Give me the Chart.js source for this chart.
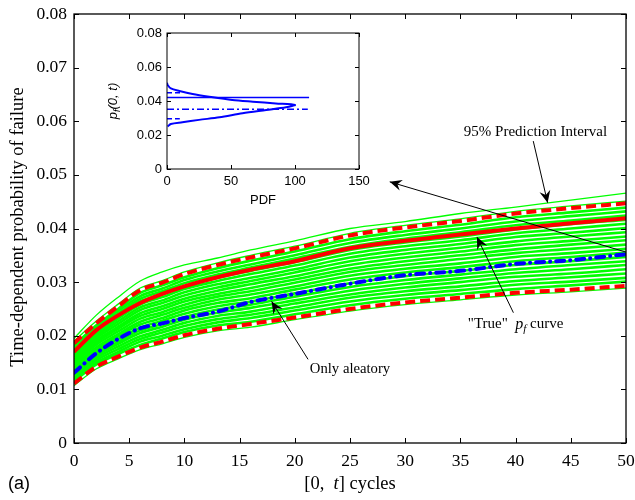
<!DOCTYPE html>
<html>
<head>
<meta charset="utf-8">
<script src="https://cdn.jsdelivr.net/npm/chart.js@4.4.1/dist/chart.umd.min.js"></script>
<style>
  html, body { margin: 0; padding: 0; background: #fff; }
  #wrap { position: relative; width: 635px; height: 500px; }
  #mainChart { position: absolute; left: 0; top: 0; width: 635px; height: 500px; }
  #insetChart { position: absolute; left: 100px; top: 20px; width: 280px; height: 200px; }
</style>
</head>
<body>
<div id="wrap">
  <canvas id="mainChart" width="635" height="500"></canvas>
  <canvas id="insetChart" width="280" height="200"></canvas>
</div>
<script>
// time axis (cycles)
const cycles = [0, 2, 4, 6, 8, 10, 13, 16, 20, 25, 30, 35, 40, 45, 50];

// "True" pf curve, 95% bounds and the aleatory-only curve
const truePf     = [0.0170, 0.0210, 0.0238, 0.0261, 0.0278, 0.0292, 0.0309, 0.0323, 0.0339, 0.0363, 0.0377, 0.0389, 0.0400, 0.0410, 0.0419];
const upperPI    = [0.0186, 0.0223, 0.0255, 0.0285, 0.0299, 0.0315, 0.0332, 0.0346, 0.0363, 0.0387, 0.0402, 0.0414, 0.0428, 0.0438, 0.0447];
const lowerPI    = [0.0111, 0.0142, 0.0161, 0.0178, 0.0189, 0.0201, 0.0213, 0.0222, 0.0234, 0.0250, 0.0262, 0.0271, 0.0280, 0.0286, 0.0293];
const aleatoryPf = [0.0131, 0.0167, 0.0194, 0.0214, 0.0223, 0.0233, 0.0245, 0.0263, 0.0278, 0.0297, 0.0313, 0.0321, 0.0334, 0.0341, 0.0352];

// sampled pf curves (green)
const mcRuns = [
  [0.0107, 0.0138, 0.0157, 0.0174, 0.0185, 0.0197, 0.0209, 0.0216, 0.0230, 0.0246, 0.0258, 0.0267, 0.0276, 0.0282, 0.0289],
  [0.0115, 0.0146, 0.0166, 0.0183, 0.0195, 0.0207, 0.0219, 0.0226, 0.0240, 0.0257, 0.0269, 0.0278, 0.0287, 0.0294, 0.0301],
  [0.0119, 0.0150, 0.0170, 0.0189, 0.0200, 0.0212, 0.0225, 0.0233, 0.0247, 0.0264, 0.0276, 0.0285, 0.0295, 0.0301, 0.0308],
  [0.0122, 0.0154, 0.0175, 0.0194, 0.0206, 0.0218, 0.0231, 0.0239, 0.0253, 0.0271, 0.0283, 0.0292, 0.0302, 0.0309, 0.0316],
  [0.0126, 0.0158, 0.0180, 0.0199, 0.0211, 0.0224, 0.0237, 0.0245, 0.0260, 0.0277, 0.0290, 0.0300, 0.0310, 0.0316, 0.0324],
  [0.0130, 0.0162, 0.0185, 0.0205, 0.0217, 0.0230, 0.0243, 0.0252, 0.0266, 0.0284, 0.0297, 0.0307, 0.0317, 0.0324, 0.0332],
  [0.0134, 0.0166, 0.0189, 0.0210, 0.0222, 0.0235, 0.0249, 0.0258, 0.0273, 0.0291, 0.0304, 0.0314, 0.0324, 0.0332, 0.0339],
  [0.0137, 0.0170, 0.0194, 0.0215, 0.0228, 0.0241, 0.0255, 0.0264, 0.0279, 0.0298, 0.0311, 0.0321, 0.0332, 0.0339, 0.0347],
  [0.0141, 0.0174, 0.0199, 0.0221, 0.0233, 0.0247, 0.0261, 0.0270, 0.0286, 0.0305, 0.0318, 0.0328, 0.0339, 0.0347, 0.0355],
  [0.0145, 0.0178, 0.0203, 0.0226, 0.0239, 0.0252, 0.0267, 0.0277, 0.0292, 0.0312, 0.0325, 0.0335, 0.0347, 0.0354, 0.0362],
  [0.0149, 0.0183, 0.0208, 0.0232, 0.0244, 0.0258, 0.0273, 0.0283, 0.0299, 0.0319, 0.0332, 0.0343, 0.0354, 0.0362, 0.0370],
  [0.0152, 0.0187, 0.0213, 0.0237, 0.0250, 0.0264, 0.0278, 0.0289, 0.0305, 0.0325, 0.0339, 0.0350, 0.0361, 0.0370, 0.0378],
  [0.0156, 0.0191, 0.0217, 0.0242, 0.0255, 0.0269, 0.0284, 0.0296, 0.0311, 0.0332, 0.0346, 0.0357, 0.0369, 0.0377, 0.0385],
  [0.0160, 0.0195, 0.0222, 0.0248, 0.0261, 0.0275, 0.0290, 0.0302, 0.0318, 0.0339, 0.0353, 0.0364, 0.0376, 0.0385, 0.0393],
  [0.0164, 0.0199, 0.0227, 0.0253, 0.0266, 0.0281, 0.0296, 0.0308, 0.0324, 0.0346, 0.0360, 0.0371, 0.0384, 0.0392, 0.0401],
  [0.0167, 0.0203, 0.0232, 0.0258, 0.0272, 0.0287, 0.0302, 0.0315, 0.0331, 0.0353, 0.0367, 0.0378, 0.0391, 0.0400, 0.0409],
  [0.0171, 0.0207, 0.0236, 0.0264, 0.0277, 0.0292, 0.0308, 0.0321, 0.0337, 0.0360, 0.0374, 0.0385, 0.0398, 0.0408, 0.0416],
  [0.0175, 0.0211, 0.0241, 0.0269, 0.0283, 0.0298, 0.0314, 0.0327, 0.0344, 0.0366, 0.0381, 0.0393, 0.0406, 0.0415, 0.0424],
  [0.0179, 0.0215, 0.0246, 0.0274, 0.0288, 0.0304, 0.0320, 0.0333, 0.0350, 0.0373, 0.0388, 0.0400, 0.0413, 0.0423, 0.0432],
  [0.0182, 0.0219, 0.0250, 0.0280, 0.0294, 0.0309, 0.0326, 0.0340, 0.0357, 0.0380, 0.0395, 0.0407, 0.0421, 0.0430, 0.0439],
  [0.0190, 0.0227, 0.0259, 0.0289, 0.0303, 0.0319, 0.0336, 0.0350, 0.0367, 0.0391, 0.0406, 0.0418, 0.0432, 0.0442, 0.0451],
  [0.0195, 0.0238, 0.0272, 0.0302, 0.0319, 0.0332, 0.0345, 0.0360, 0.0377, 0.0400, 0.0413, 0.0428, 0.0440, 0.0453, 0.0466]
];

const yTickLabels = ['0', '0.01', '0.02', '0.03', '0.04', '0.05', '0.06', '0.07', '0.08'];

// inset: PDF of pf(0, t) at t = 50
const pdfValues = [0, 0.5, 3, 9.7, 20, 33, 51, 67, 85, 100, 93, 77.5, 59, 41, 25, 12, 3, 0.5];
const pdfLevels = [0.0507, 0.0494, 0.0474, 0.0459, 0.0441, 0.0425, 0.0406, 0.0396, 0.0386, 0.0377, 0.0363, 0.0347, 0.0328, 0.0304, 0.0289, 0.0275, 0.0265, 0.0250];
const insetLevels = [0.0421, 0.0351, 0.0449, 0.0295];   // true, aleatory, upper, lower
const insetLineEnds = [111, 110, 12, 10];               // PDF extent of those lines
const insetYTickLabels = ['0', '0.02', '0.04', '0.06', '0.08'];

const serif = 'Liberation Serif, Times New Roman, serif';
const sans = 'Liberation Sans, Arial, sans-serif';

// box around the axes with inward ticks on every side
const boxTicks = {
  id: 'boxTicks',
  afterDraw(chart, args, opts) {
    const { ctx, chartArea: a, scales: { x, y } } = chart;
    const len = opts.len;
    ctx.save();
    ctx.strokeStyle = '#000';
    ctx.lineWidth = opts.lineWidth;
    ctx.strokeRect(a.left, a.top, a.right - a.left, a.bottom - a.top);
    ctx.lineWidth = 1;
    ctx.beginPath();
    x.ticks.forEach(t => {
      const px = Math.round(x.getPixelForValue(t.value)) + 0.5;
      ctx.moveTo(px, a.bottom); ctx.lineTo(px, a.bottom - len);
      ctx.moveTo(px, a.top); ctx.lineTo(px, a.top + len);
    });
    y.ticks.forEach(t => {
      const py = Math.round(y.getPixelForValue(t.value)) + 0.5;
      ctx.moveTo(a.left, py); ctx.lineTo(a.left + len, py);
      ctx.moveTo(a.right, py); ctx.lineTo(a.right - len, py);
    });
    ctx.stroke();
    ctx.restore();
  }
};

function drawArrow(ctx, x1, y1, x2, y2) {
  ctx.beginPath();
  ctx.moveTo(x1, y1);
  ctx.lineTo(x2, y2);
  ctx.stroke();
  const ang = Math.atan2(y2 - y1, x2 - x1);
  ctx.save();
  ctx.translate(x2, y2);
  ctx.rotate(ang);
  ctx.beginPath();
  ctx.moveTo(0, 0);
  ctx.lineTo(-12, -5.5);
  ctx.lineTo(-8, 0);
  ctx.lineTo(-12, 5.5);
  ctx.closePath();
  ctx.fill();
  ctx.restore();
}

// draw runs of text pieces [text, font, dy] centred on x
function drawPieces(ctx, pieces, cx, cy) {
  let total = 0;
  pieces.forEach(p => { ctx.font = p[1]; total += ctx.measureText(p[0]).width; });
  let x = cx - total / 2;
  pieces.forEach(p => {
    ctx.font = p[1];
    ctx.fillText(p[0], x, cy + (p[2] || 0));
    x += ctx.measureText(p[0]).width;
  });
}

const mainNotes = {
  id: 'mainNotes',
  afterDraw(chart) {
    const { ctx, scales: { x, y } } = chart;
    const P = (t, v) => [x.getPixelForValue(t), y.getPixelForValue(v)];
    ctx.save();
    ctx.fillStyle = '#000';
    ctx.strokeStyle = '#000';
    ctx.lineWidth = 1;
    ctx.textBaseline = 'middle';
    ctx.textAlign = 'left';

    let a = P(41.6, 0.0563), b = P(42.9, 0.0448);
    drawArrow(ctx, a[0], a[1], b[0], b[1]);
    a = P(50, 0.0356); b = P(28.6, 0.0487);
    drawArrow(ctx, a[0], a[1], b[0], b[1]);
    a = P(39.8, 0.0243); b = P(36.5, 0.0384);
    drawArrow(ctx, a[0], a[1], b[0], b[1]);
    a = P(21.2, 0.0156); b = P(17.9, 0.0264);
    drawArrow(ctx, a[0], a[1], b[0], b[1]);

    let c = P(41.8, 0.0580);
    drawPieces(ctx, [['95% Prediction Interval', '15px ' + serif]], c[0], c[1]);
    c = P(40, 0.0221);
    drawPieces(ctx, [
      ['"True"  ', '15px ' + serif],
      ['p', 'italic 16px ' + serif],
      ['f', 'italic 11px ' + serif, 5],
      [' curve', '15px ' + serif]
    ], c[0], c[1]);
    c = P(25, 0.0138);
    drawPieces(ctx, [['Only aleatory', '14.7px ' + serif]], c[0], c[1]);

    // axis titles
    drawPieces(ctx, [
      ['[0,  ', '18.5px ' + serif],
      ['t', 'italic 18.5px ' + serif],
      ['] cycles', '18.5px ' + serif]
    ], 350, 484);
    ctx.save();
    ctx.translate(18, 227);
    ctx.rotate(-Math.PI / 2);
    drawPieces(ctx, [['Time-dependent probability of failure', '18.5px ' + serif]], 0, 0);
    ctx.restore();
    drawPieces(ctx, [['(a)', '18px ' + sans]], 19, 484);
    ctx.restore();
  }
};

const insetNotes = {
  id: 'insetNotes',
  afterDraw(chart) {
    const { ctx } = chart;
    ctx.save();
    ctx.fillStyle = '#000';
    ctx.textBaseline = 'middle';
    ctx.textAlign = 'left';
    drawPieces(ctx, [['PDF', '13px ' + sans]], 163, 180);
    ctx.translate(13, 81);
    ctx.rotate(-Math.PI / 2);
    drawPieces(ctx, [
      ['p', 'italic 13px ' + sans],
      ['f', 'italic 9px ' + sans, 4],
      ['(0, t)', 'italic 13px ' + sans]
    ], 0, 0);
    ctx.restore();
  }
};

const toXY = vals => vals.map((v, i) => ({ x: cycles[i], y: v }));

const mainSets = [
  { data: toXY(aleatoryPf), borderColor: '#0000ff', borderWidth: 4, borderDash: [8, 6, 0.1, 6], borderCapStyle: 'round', order: 0 },
  { data: toXY(truePf), borderColor: '#ff0000', borderWidth: 4, order: 1 },
  { data: toXY(upperPI), borderColor: '#ff0000', borderWidth: 4, borderDash: [10, 5], order: 2 },
  { data: toXY(lowerPI), borderColor: '#ff0000', borderWidth: 4, borderDash: [10, 5], order: 2 }
];
const outerRuns = [0, mcRuns.length - 2, mcRuns.length - 1];
mcRuns.forEach((run, i) => {
  mainSets.push({ data: toXY(run), borderColor: '#00ff00', borderWidth: outerRuns.includes(i) ? 1.3 : 2.6, order: 3 });
});
mainSets.forEach(d => { d.cubicInterpolationMode = 'monotone'; d.pointRadius = 0; d.fill = false; });

// keep the plot box exactly where the axes are, ignoring label overflow
const noPadX = s => { s.paddingLeft = 0; s.paddingRight = 0; };
const noPadY = s => { s.paddingTop = 0; s.paddingBottom = 0; };

new Chart(document.getElementById('mainChart'), {
  type: 'line',
  data: { datasets: mainSets },
  options: {
    responsive: false,
    animation: false,
    devicePixelRatio: 1,
    layout: { padding: { top: 14, right: 9, left: 0, bottom: 0 } },
    plugins: { legend: { display: false }, tooltip: { enabled: false }, boxTicks: { len: 5, lineWidth: 1.3 } },
    scales: {
      x: {
        type: 'linear', min: 0, max: 50,
        border: { display: false },
        grid: { display: false, drawTicks: false },
        ticks: { stepSize: 5, padding: 8, maxRotation: 0, color: '#000', font: { family: serif, size: 17.5 } },
        afterFit: s => { s.height = 57; noPadX(s); }
      },
      y: {
        min: 0, max: 0.08,
        border: { display: false },
        grid: { display: false, drawTicks: false },
        ticks: { stepSize: 0.01, padding: 7, color: '#000', font: { family: serif, size: 17.5 },
                 callback: (v, i) => yTickLabels[i] },
        afterFit: s => { s.width = 74; noPadY(s); }
      }
    }
  },
  plugins: [boxTicks, mainNotes]
});

const hLine = (k) => [{ x: 0, y: insetLevels[k] }, { x: insetLineEnds[k], y: insetLevels[k] }];

new Chart(document.getElementById('insetChart'), {
  type: 'scatter',
  data: {
    datasets: [
      { data: pdfValues.map((p, i) => ({ x: p, y: pdfLevels[i] })), showLine: true, tension: 0.3, borderColor: '#0000ff', borderWidth: 2 },
      { data: hLine(0), showLine: true, borderColor: '#0000ff', borderWidth: 1.5 },
      { data: hLine(1), showLine: true, borderColor: '#0000ff', borderWidth: 1.5, borderDash: [7, 3, 2, 3] },
      { data: hLine(2), showLine: true, borderColor: '#0000ff', borderWidth: 1.5, borderDash: [5, 3] },
      { data: hLine(3), showLine: true, borderColor: '#0000ff', borderWidth: 1.5, borderDash: [5, 3] }
    ]
  },
  options: {
    responsive: false,
    animation: false,
    devicePixelRatio: 1,
    elements: { point: { radius: 0 } },
    layout: { padding: { top: 13, right: 21, left: 0, bottom: 0 } },
    plugins: { legend: { display: false }, tooltip: { enabled: false }, boxTicks: { len: 4, lineWidth: 1 } },
    scales: {
      x: {
        type: 'linear', min: 0, max: 150,
        border: { display: false },
        grid: { display: false, drawTicks: false },
        ticks: { stepSize: 50, padding: 5, maxRotation: 0, color: '#000', font: { family: sans, size: 13 } },
        afterFit: s => { s.height = 51; noPadX(s); }
      },
      y: {
        min: 0, max: 0.08,
        border: { display: false },
        grid: { display: false, drawTicks: false },
        ticks: { stepSize: 0.02, padding: 5, color: '#000', font: { family: sans, size: 13 },
                 callback: (v, i) => insetYTickLabels[i] },
        afterFit: s => { s.width = 67; noPadY(s); }
      }
    }
  },
  plugins: [boxTicks, insetNotes]
});
</script>
</body>
</html>
